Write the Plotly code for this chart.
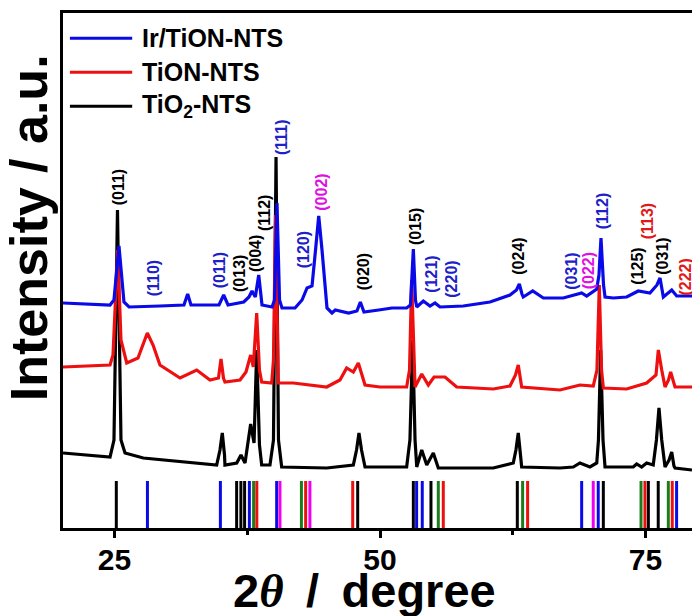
import plotly.graph_objects as go

# ---------------- data (2theta in degree, intensity in a.u.) ----------------
blue_x = [20.15, 22.69, 24.58, 24.95, 25.42, 25.89, 26.37, 29.28, 31.54, 31.89, 32.20, 34.84, 35.28, 35.69,
          37.17, 37.66, 37.95, 38.26, 38.58, 38.89, 39.83, 40.07, 40.30, 40.54, 40.77, 42.00, 42.66, 43.13,
          43.60, 43.93, 44.23, 44.54, 45.01, 45.48, 45.79, 47.05, 47.83, 48.15, 48.49, 49.88, 51.13, 52.51,
          52.87, 53.14, 53.34, 53.46, 54.08, 54.71, 55.18, 55.65, 57.84, 60.36, 62.24, 62.85, 63.12, 63.37,
          63.49, 64.38, 65.38, 67.26, 68.99, 69.46, 70.41, 70.62, 70.81, 71.05, 71.19, 71.97, 73.23, 74.32,
          75.42, 76.08, 76.37, 76.68, 77.47, 77.94, 79.38]
blue_y = [225, 224, 223, 228, 282, 226, 221, 222, 223, 234, 223, 223, 233, 223,
          226, 231, 237, 231, 253, 223, 221, 228, 325, 228, 220, 220, 228, 240,
          242, 278, 312, 278, 220, 215, 218, 215, 217, 226, 216, 218, 220, 220,
          223, 279, 228, 221, 227, 222, 225, 221, 222, 226, 233, 238, 244, 234,
          231, 237, 230, 230, 235, 232, 239, 253, 290, 243, 231, 230, 231, 237,
          235, 243, 250, 231, 238, 232, 232]

red_x = [20.15, 22.69, 24.58, 24.86, 25.30, 25.61, 26.15, 27.21, 28.09, 28.63, 29.28, 31.17, 32.74, 33.99,
         34.79, 35.03, 35.26, 35.40, 36.82, 37.38, 37.82, 38.07, 38.39, 38.65, 38.86, 39.80, 39.97, 40.16,
         40.35, 40.42, 41.84, 44.98, 46.23, 46.86, 47.49, 47.96, 48.59, 50.00, 52.51, 52.78, 52.98, 53.20,
         53.30, 53.93, 54.55, 55.09, 56.12, 57.22, 60.67, 62.24, 62.76, 63.02, 63.23, 63.34, 66.95, 68.83,
         70.08, 70.43, 70.65, 70.86, 71.03, 73.23, 74.17, 75.11, 75.99, 76.21, 76.53, 76.84, 77.17, 77.37,
         77.78, 79.38]
red_y = [161, 162, 163, 173, 278, 188, 165, 170, 195, 183, 163, 150, 158, 148,
         150, 169, 150, 146, 148, 156, 173, 161, 215, 158, 146, 145, 168, 313,
         168, 145, 145, 141, 148, 160, 156, 165, 143, 141, 141, 158, 248, 158,
         141, 154, 143, 151, 151, 141, 139, 142, 153, 163, 148, 141, 138, 143,
         142, 158, 243, 158, 140, 139, 142, 145, 153, 178, 158, 141, 148, 156,
         141, 141]

black_x = [20.15, 22.69, 24.58, 24.95, 25.28, 25.61, 25.99, 27.71, 32.42, 34.62, 34.93, 35.15, 35.36, 35.40,
           36.51, 36.91, 37.29, 37.62, 37.82, 38.14, 38.39, 38.65, 38.86, 39.64, 39.97, 40.21, 40.44, 40.74,
           44.98, 47.49, 47.79, 48.02, 48.26, 48.59, 52.51, 52.82, 53.08, 53.30, 53.46, 53.93, 54.40, 55.02,
           55.49, 60.67, 62.55, 62.80, 63.02, 63.23, 63.34, 66.95, 68.20, 68.83, 69.77, 70.41, 70.57, 70.78,
           71.00, 71.19, 73.85, 74.17, 74.64, 75.11, 75.73, 76.03, 76.27, 76.53, 76.69, 76.84, 77.22, 77.47,
           77.68, 77.78, 79.38]
black_y = [75, 73, 71, 88, 318, 88, 75, 70, 65, 63, 78, 95, 73, 63,
           65, 73, 65, 88, 104, 85, 178, 83, 63, 63, 88, 371, 88, 61,
           60, 63, 78, 95, 78, 61, 61, 88, 188, 88, 61, 78, 63, 75,
           60, 60, 65, 78, 95, 73, 61, 60, 61, 65, 61, 65, 88, 178,
           88, 61, 61, 64, 61, 65, 63, 88, 120, 88, 73, 61, 68, 76,
           62, 60, 58]

# reference stick patterns (2theta)
stick_black = [25.17, 36.50, 36.90, 37.25, 47.90, 53.14, 54.80, 62.93, 71.03, 75.27, 76.20]
stick_blue = [28.10, 34.97, 37.70, 40.27, 53.45, 53.98, 68.99, 70.55, 77.93]
stick_green = [38.10, 42.60, 55.49, 63.43, 74.58, 77.15]
stick_red = [38.40, 43.00, 47.43, 55.96, 63.90, 74.95, 77.52]
stick_magenta = [40.58, 43.40, 70.08]
stick_height = 47

# peak labels
label_text = ["(011)", "(110)", "(011)", "(013)", "(004)", "(112)", "(111)", "(120)", "(002)", "(020)",
              "(015)", "(121)", "(220)", "(024)", "(031)", "(022)", "(112)", "(125)", "(113)", "(031)", "(222)"]
label_x = [25.36, 28.65, 34.87, 36.72, 38.23, 39.08, 40.68, 42.78, 44.42, 48.43,
           53.30, 54.77, 56.66, 62.97, 67.96, 69.61, 70.93, 74.17, 75.17, 76.53, 78.68]
label_y = [341, 250, 258, 255, 274, 315, 391, 278, 336, 256,
           301, 254, 249, 272, 257, 257, 317, 262, 307, 272, 251]
label_kind = ["k", "b", "b", "k", "k", "k", "b", "b", "m", "k",
              "k", "b", "b", "k", "b", "m", "b", "k", "r", "k", "r"]

series_names = ["Ir/TiON-NTS", "TiON-NTS", "TiO<sub>2</sub>-NTS"]
x_ticks = [25, 50, 75]

# ---------------- styles ----------------
C_BLUE = "#0a0ae8"
C_RED = "#ee1010"
C_BLACK = "#000000"
C_GREEN = "#1a7d1a"
C_MAG = "#f000f0"
label_colors = {"k": "#000000", "b": "#2020c8", "m": "#e010e0", "r": "#e01818"}
FONT = "Liberation Sans, Arial, sans-serif"

fig = go.Figure()


def stick_trace(pos, color):
    xs, ys = [], []
    for p in pos:
        xs += [p, p, None]
        ys += [0, stick_height, None]
    return go.Scatter(x=xs, y=ys, mode="lines", line=dict(color=color, width=3),
                      showlegend=False, hoverinfo="skip")


for pos, col in [(stick_black, C_BLACK), (stick_blue, C_BLUE), (stick_green, C_GREEN),
                 (stick_red, C_RED), (stick_magenta, C_MAG)]:
    fig.add_trace(stick_trace(pos, col))

fig.add_trace(go.Scatter(x=black_x, y=black_y, mode="lines", name=series_names[2],
                         line=dict(color=C_BLACK, width=3.2), showlegend=False))
fig.add_trace(go.Scatter(x=red_x, y=red_y, mode="lines", name=series_names[1],
                         line=dict(color=C_RED, width=3.2), showlegend=False))
fig.add_trace(go.Scatter(x=blue_x, y=blue_y, mode="lines", name=series_names[0],
                         line=dict(color=C_BLUE, width=3.2), showlegend=False))

annotations = []
for t, x, y, k in zip(label_text, label_x, label_y, label_kind):
    annotations.append(dict(x=x, y=y, xref="x", yref="y", text="<b>%s</b>" % t, showarrow=False,
                            textangle=-90, font=dict(family=FONT, size=16, color=label_colors[k]),
                            xanchor="center", yanchor="middle"))

# manual legend (long line samples)
shapes = []
leg_cols = [C_BLUE, C_RED, C_BLACK]
leg_y = [0.951, 0.885, 0.819]
for name, col, yy in zip(series_names, leg_cols, leg_y):
    shapes.append(dict(type="line", xref="paper", yref="paper", x0=0.011, x1=0.110, y0=yy, y1=yy,
                       line=dict(color=col, width=3)))
    annotations.append(dict(x=0.1224, y=yy, xref="paper", yref="paper", text="<b>%s</b>" % name,
                            showarrow=False, xanchor="left", yanchor="middle",
                            font=dict(family=FONT, size=25, color="#000000")))

# axis titles
annotations.append(dict(x=0.4795, y=-0.122, xref="paper", yref="paper",
                        text='<b>2<span style="font-family:Liberation Serif"><i>θ</i></span>'
                             '\u00a0\u2009/\u00a0\u2009degree</b>',
                        showarrow=False, xanchor="center", yanchor="middle",
                        font=dict(family=FONT, size=47, color="#000000")))
annotations.append(dict(x=-0.055, y=0.583, xref="paper", yref="paper",
                        text="<b>Intensity / a.u.</b>", textangle=-90,
                        showarrow=False, xanchor="center", yanchor="middle",
                        font=dict(family=FONT, size=52, color="#000000")))

fig.update_layout(
    width=692, height=616,
    margin=dict(l=63, r=0, t=13, b=88),
    paper_bgcolor="white", plot_bgcolor="white",
    annotations=annotations, shapes=shapes,
    xaxis=dict(range=[20.15, 79.38], showgrid=False, zeroline=False,
               showline=True, linecolor="black", linewidth=3, mirror=True,
               tickmode="array", tickvals=x_ticks, ticktext=["<b>%d</b>" % v for v in x_ticks],
               ticks="outside", ticklen=7, tickwidth=3, tickcolor="black",
               ticklabelstandoff=-4,
               tickfont=dict(family=FONT, size=30, color="black"),
               minor=dict(tickmode="array", tickvals=[37.5, 62.5], ticks="outside", ticklen=4,
                          tickwidth=3, tickcolor="black")),
    yaxis=dict(range=[0, 515], showgrid=False, zeroline=False, showline=True,
               linecolor="black", linewidth=3, showticklabels=False, ticks=""),
)

fig.write_html("out.html")
